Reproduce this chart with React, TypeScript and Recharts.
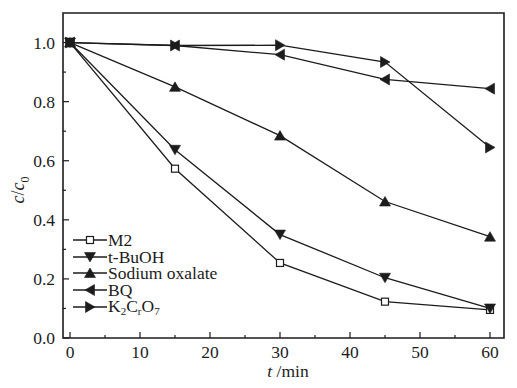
import { ComposedChart, Legend, Line, ReferenceArea, XAxis, YAxis } from "recharts";

const times = [0, 15, 30, 45, 60];
const m2 = [1.0, 0.573, 0.254, 0.123, 0.095];
const tBuOH = [1.0, 0.637, 0.35, 0.204, 0.1];
const sodiumOxalate = [1.0, 0.85, 0.685, 0.462, 0.343];
const bq = [1.0, 0.99, 0.959, 0.875, 0.844];
const k2cr2o7 = [1.0, 0.99, 0.991, 0.934, 0.645];

const xTicks = [0, 5, 10, 15, 20, 25, 30, 35, 40, 45, 50, 55, 60];
const yTicks = [0, 0.1, 0.2, 0.3, 0.4, 0.5, 0.6, 0.7, 0.8, 0.9, 1.0];

const FONT = "Liberation Serif, Times New Roman, Times, serif";
const INK = "#1c1c1c";

type Kind = "square" | "down" | "up" | "left" | "right";

const series: { key: string; name: string; kind: Kind }[] = [
  { key: "m2", name: "M2", kind: "square" },
  { key: "tBuOH", name: "t-BuOH", kind: "down" },
  { key: "sodiumOxalate", name: "Sodium oxalate", kind: "up" },
  { key: "bq", name: "BQ", kind: "left" },
  { key: "k2cr2o7", name: "K2CrO7", kind: "right" },
];

const data = times.map((t, i) => ({
  t,
  m2: m2[i],
  tBuOH: tBuOH[i],
  sodiumOxalate: sodiumOxalate[i],
  bq: bq[i],
  k2cr2o7: k2cr2o7[i],
}));

function Marker({ kind, cx, cy }: { kind: Kind; cx: number; cy: number }) {
  if (kind === "square") {
    return (
      <rect x={cx - 3.5} y={cy - 3.5} width={7} height={7} fill="#fff" stroke={INK} strokeWidth={1.2} />
    );
  }
  let pts = "";
  if (kind === "down") pts = `${cx - 5.5},${cy - 4.5} ${cx + 5.5},${cy - 4.5} ${cx},${cy + 5}`;
  if (kind === "up") pts = `${cx - 5.5},${cy + 4.5} ${cx + 5.5},${cy + 4.5} ${cx},${cy - 5}`;
  if (kind === "left") pts = `${cx - 5},${cy} ${cx + 4.5},${cy - 5.5} ${cx + 4.5},${cy + 5.5}`;
  if (kind === "right") pts = `${cx + 5},${cy} ${cx - 4.5},${cy - 5.5} ${cx - 4.5},${cy + 5.5}`;
  return <polygon points={pts} fill={INK} stroke={INK} strokeWidth={0.6} />;
}

// eslint-disable-next-line @typescript-eslint/no-explicit-any
function XTick({ x, y, payload }: any) {
  const v = payload.value as number;
  const major = v % 10 === 0;
  return (
    <g>
      <line x1={x} x2={x} y1={y} y2={y - (major ? 6 : 3)} stroke={INK} strokeWidth={1.2} />
      {major && (
        <text x={x} y={y + 20} textAnchor="middle" fontSize={17.5} fontFamily={FONT} fill={INK}>
          {v}
        </text>
      )}
    </g>
  );
}

// eslint-disable-next-line @typescript-eslint/no-explicit-any
function YTick({ x, y, payload }: any) {
  const v = payload.value as number;
  const major = Math.round(v * 10) % 2 === 0;
  return (
    <g>
      <line x1={x} x2={x + (major ? 6 : 3)} y1={y} y2={y} stroke={INK} strokeWidth={1.2} />
      {major && (
        <text x={x - 8} y={y + 6} textAnchor="end" fontSize={17.5} fontFamily={FONT} fill={INK}>
          {v.toFixed(1)}
        </text>
      )}
    </g>
  );
}

const subStyle = { fontSize: 11, position: "relative" as const, top: 3, lineHeight: 0 };

function LegendName({ name }: { name: string }) {
  if (name === "K2CrO7") {
    return (
      <span>
        K<span style={subStyle}>2</span>C<span style={subStyle}>r</span>O<span style={subStyle}>7</span>
      </span>
    );
  }
  return <span>{name}</span>;
}

function LegendBox() {
  return (
    <div style={{ fontFamily: FONT, fontSize: 17.5, color: INK, lineHeight: "16.6px" }}>
      {series.map((s) => (
        <div key={s.key} style={{ display: "flex", alignItems: "center", height: 16.6 }}>
          <svg width={36} height={14} style={{ flex: "none" }}>
            <line x1={1} x2={35} y1={7} y2={7} stroke={INK} strokeWidth={1.3} />
            <Marker kind={s.kind} cx={18} cy={7} />
          </svg>
          <LegendName name={s.name} />
        </div>
      ))}
    </div>
  );
}

export default function App() {
  return (
    <div style={{ position: "absolute", left: 0, top: 0, width: 517, height: 388, background: "#fff" }}>
      <ComposedChart width={517} height={388} data={data} margin={{ top: 13, right: 13, left: 0, bottom: 0 }}>
        <XAxis
          dataKey="t"
          type="number"
          domain={[-1, 62]}
          ticks={xTicks}
          interval={0}
          allowDataOverflow
          height={50}
          axisLine={false}
          tickLine={false}
          tickSize={0}
          tickMargin={0}
          tick={<XTick />}
          label={{
            content: () => (
              <text x={288} y={377} textAnchor="middle" fontSize={17.5} fontFamily={FONT} fill={INK}>
                <tspan fontStyle="italic">t</tspan> /min
              </text>
            ),
          }}
        />
        <YAxis
          type="number"
          domain={[0, 1.1]}
          ticks={yTicks}
          interval={0}
          allowDataOverflow
          width={63}
          axisLine={false}
          tickLine={false}
          tickSize={0}
          tickMargin={0}
          tick={<YTick />}
          label={{
            content: () => (
              <text
                transform="translate(24 190) rotate(-90)"
                textAnchor="middle"
                fontSize={18}
                fontFamily={FONT}
                fill={INK}
              >
                <tspan fontStyle="italic">c</tspan>/<tspan fontStyle="italic">c</tspan>
                <tspan fontSize={12} dy={5}>0</tspan>
              </text>
            ),
          }}
        />
        <ReferenceArea x1={-1} x2={62} y1={0} y2={1.1} fill="none" stroke={INK} strokeWidth={1.6} />
        {series.map((s) => (
          <Line
            key={s.key}
            dataKey={s.key}
            name={s.name}
            type="linear"
            stroke={INK}
            strokeWidth={1.3}
            isAnimationActive={false}
            dot={(p: any) => <Marker key={`${s.key}-${p.index}`} kind={s.kind} cx={p.cx} cy={p.cy} />}
            activeDot={false}
          />
        ))}
        <Legend
          layout="vertical"
          align="center"
          verticalAlign="middle"
          content={() => <LegendBox />}
          wrapperStyle={{ left: 72, top: 232, width: 180, height: 90 }}
        />
      </ComposedChart>
    </div>
  );
}
